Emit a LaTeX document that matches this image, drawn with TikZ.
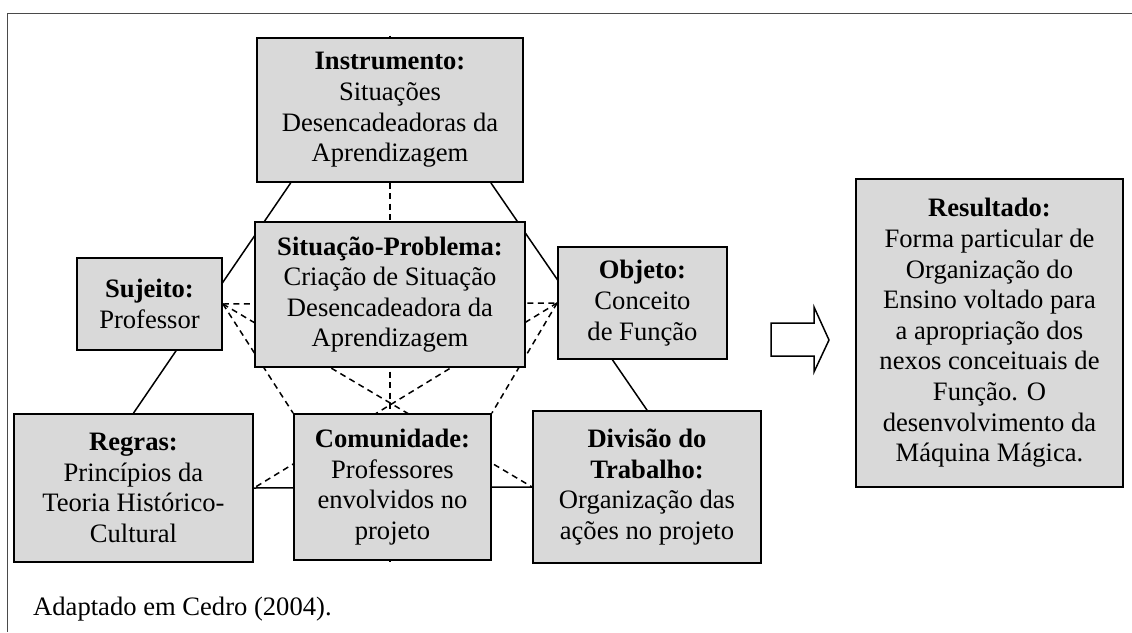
\documentclass[tikz,border=0pt]{standalone}
\usepackage{fontspec}
\setmainfont{Liberation Serif}
\usetikzlibrary{calc,backgrounds}
\definecolor{boxgray}{HTML}{D9D9D9}
\definecolor{framegray}{HTML}{4A4A4A}
\tikzset{
  box/.style={draw=black, line width=1.8pt, fill=boxgray, align=center,
    inner sep=0pt, font=\fontsize{26.6}{30.6}\selectfont},
  solidlink/.style={draw=black, line width=1.5pt},
  dashlink/.style={draw=black, line width=1.5pt, dash pattern=on 6pt off 4.5pt},
  blockarrow/.style={draw=black, line width=1.5pt, fill=white, line join=miter},
  caption/.style={font=\fontsize{26.6}{30.6}\selectfont, inner sep=0pt, anchor=base west}
}
\begin{document}
\begin{tikzpicture}[x=1pt,y=-1pt]
\useasboundingbox (0,0) rectangle (1132,632);
% frame (cut at the right and bottom edges)
\draw[framegray, line width=1.4pt] (1132,13.5) -- (7.7,13.5) -- (7.7,632);

% boxes
\node[box, minimum width=266pt, minimum height=144pt] (inst) at (390,110)
  {\textbf{Instrumento:}\\Situações\\Desencadeadoras da\\Aprendizagem};
\node[box, minimum width=270pt, minimum height=145pt] (sit) at (390,294.5)
  {\textbf{Situação-Problema:}\\Criação de Situação\\Desencadeadora da\\Aprendizagem};
\node[box, minimum width=145pt, minimum height=92pt] (suj) at (149.5,304)
  {\textbf{Sujeito:}\\Professor};
\node[box, minimum width=169pt, minimum height=112pt] (obj) at (642.5,303)
  {\textbf{Objeto:}\\Conceito\\de Função};
\node[box, minimum width=239pt, minimum height=148pt] (reg) at (133.5,488)
  {\textbf{Regras:}\\Princípios da\\Teoria Histórico-\\Cultural};
\node[box, minimum width=197pt, minimum height=146pt] (com) at (392.5,487)
  {\textbf{Comunidade:}\\Professores\\envolvidos no\\projeto};
\node[box, minimum width=228pt, minimum height=152pt] (div) at (647,487)
  {\textbf{Divisão do}\\\textbf{Trabalho:}\\Organização das\\ações no projeto};
\node[box, minimum width=267pt, minimum height=308pt] (res) at (989.5,333)
  {\textbf{Resultado:}\\Forma particular de\\Organização do\\Ensino voltado para\\a apropriação dos\\nexos conceituais de\\Função. O\\desenvolvimento da\\Máquina Mágica.};

% connectors behind the boxes
\begin{scope}[on background layer]
  \fill[white] (0,0) rectangle (1132,632);
  \draw[solidlink] ($(inst.south west)+(34.6,0)$) -- (reg.north);
  \draw[solidlink] ($(inst.south east)+(-33,0)$) -- (div.north);
  \draw[solidlink] (reg.east) -- (div.west);
  \draw[dashlink] ($(inst.north)+(0,-1.5)$) -- ($(inst.north |- com.south)+(0,1.5)$);
  \draw[dashlink] (suj.east) -- (obj.west);
  \draw[dashlink] (suj.east) -- (div.west);
  \draw[dashlink] (obj.west) -- (reg.east);
  \draw[dashlink] (suj.east) -- (com.north west);
  \draw[dashlink] (obj.west) -- (com.north east);
\end{scope}

% block arrow towards the result
\coordinate (a1) at (771,323);
\coordinate (a2) at (814,323);
\coordinate (a3) at (814,307);
\coordinate (tip) at (829,340);
\coordinate (a5) at (814,372);
\coordinate (a6) at (814,356);
\coordinate (a7) at (771,356);
\draw[blockarrow] (a1) -- (a2) -- (a3) -- (tip) -- (a5) -- (a6) -- (a7) -- cycle;

% caption
\node[caption] (cap) at (33,615) {Adaptado em Cedro (2004).};
\end{tikzpicture}
\end{document}
